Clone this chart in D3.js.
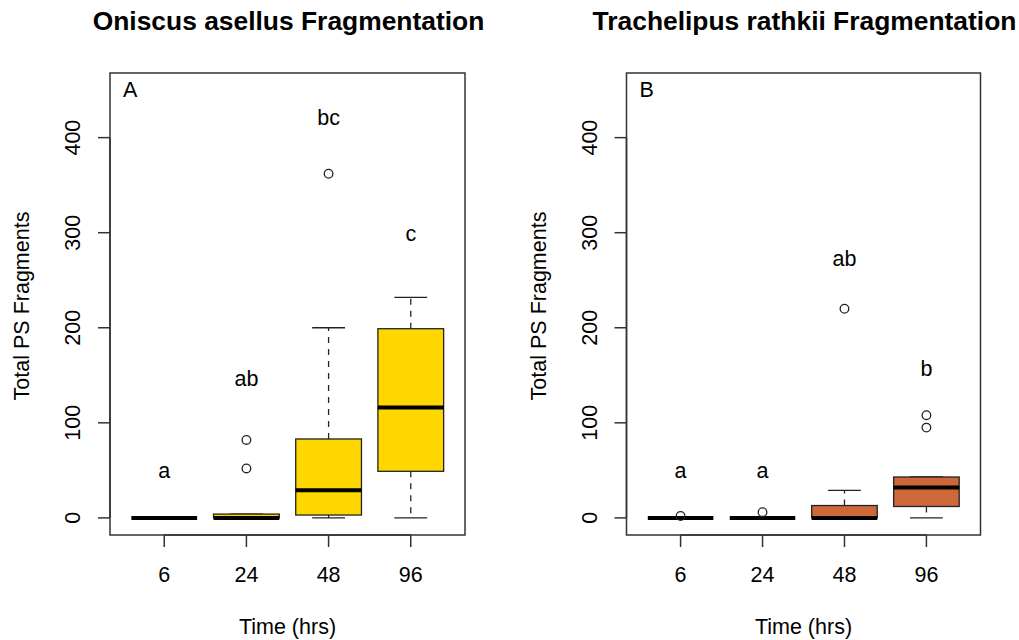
<!DOCTYPE html>
<html>
<head>
<meta charset="utf-8">
<script src="https://cdn.jsdelivr.net/npm/d3@7"></script>
<style>
  body { margin: 0; background: #fff; }
  svg { display: block; font-family: "Liberation Sans", Arial, sans-serif; }
</style>
</head>
<body>
<div id="chart"></div>
<script>
const width = 1019;
const height = 640;

// shared categories / ticks
const times = ['6', '24', '48', '96'];
const yTicks = [0, 100, 200, 300, 400];
const yLimits = [0, 450];

// Oniscus asellus: [lowWhisker, q1, median, q3, highWhisker]
const oniscusStats = [
  [0, 0, 0, 0, 0],
  [0, 0, 0, 4, 4],
  [0, 3, 29, 83, 200],
  [0, 49, 116, 199, 232],
];
const oniscusOutliers = [[], [52, 82], [362], []];
const oniscusLetters = ['a', 'ab', 'bc', 'c'];
const oniscusLetterY = [50, 147, 422, 300];

// Trachelipus rathkii
const trachStats = [
  [0, 0, 0, 0, 0],
  [0, 0, 0, 0, 0],
  [0, 0, 0, 13, 29],
  [0, 12, 32, 43, 43],
];
const trachOutliers = [[2], [6], [220], [95, 108]];
const trachLetters = ['a', 'a', 'ab', 'b'];
const trachLetterY = [50, 50, 273, 158];

const panels = [
  {title: 'Oniscus asellus Fragmentation', tag: 'A', left: 110, right: 465, fill: '#FFD700',
    stats: oniscusStats, outliers: oniscusOutliers, letters: oniscusLetters, letterY: oniscusLetterY},
  {title: 'Trachelipus rathkii Fragmentation', tag: 'B', left: 626.5, right: 980.5, fill: '#CD6839',
    stats: trachStats, outliers: trachOutliers, letters: trachLetters, letterY: trachLetterY},
];

const plotTop = 73;
const plotBottom = 535;
const fs = 21.5;

const svg = d3.select('#chart').append('svg').attr('width', width).attr('height', height);

panels.forEach(drawPanel);

function drawPanel(p) {
  // R style 4% expansion
  const yPad = (yLimits[1] - yLimits[0]) * 0.04;
  const y = d3.scaleLinear().domain([yLimits[0] - yPad, yLimits[1] + yPad]).range([plotBottom, plotTop]);
  const x = d3.scaleLinear().domain([0.34, 4.66]).range([p.left, p.right]);
  const unit = x(1) - x(0);
  const boxW = 0.8 * unit;
  const capW = 0.4 * unit;
  const cx = (p.left + p.right) / 2;

  const g = svg.append('g');

  // title
  g.append('text')
    .attr('x', cx + 1).attr('y', 30)
    .attr('text-anchor', 'middle')
    .style('font-weight', 'bold')
    .style('font-size', '26.4px')
    .text(p.title);

  // boxes
  const groups = g.selectAll('.grp')
    .data(p.stats.map((s, i) => ({s: s, i: i, out: p.outliers[i], letter: p.letters[i], ly: p.letterY[i]})))
    .enter().append('g').attr('class', 'grp');

  // whiskers
  groups.append('line')
    .attr('x1', (d) => x(d.i + 1)).attr('x2', (d) => x(d.i + 1))
    .attr('y1', (d) => y(d.s[3])).attr('y2', (d) => y(d.s[4]))
    .style('stroke', '#222').style('stroke-width', 1.3).style('stroke-dasharray', '6,6');
  groups.append('line')
    .attr('x1', (d) => x(d.i + 1)).attr('x2', (d) => x(d.i + 1))
    .attr('y1', (d) => y(d.s[1])).attr('y2', (d) => y(d.s[0]))
    .style('stroke', '#222').style('stroke-width', 1.3).style('stroke-dasharray', '6,6');
  // staples
  [0, 4].forEach((k) => {
    groups.append('line')
      .attr('x1', (d) => x(d.i + 1) - capW / 2).attr('x2', (d) => x(d.i + 1) + capW / 2)
      .attr('y1', (d) => y(d.s[k])).attr('y2', (d) => y(d.s[k]))
      .style('stroke', '#222').style('stroke-width', 1.3);
  });

  groups.append('rect')
    .attr('x', (d) => x(d.i + 1) - boxW / 2)
    .attr('width', boxW)
    .attr('y', (d) => y(d.s[3]))
    .attr('height', (d) => y(d.s[1]) - y(d.s[3]))
    .style('fill', p.fill)
    .style('stroke', '#222')
    .style('stroke-width', 1.3);

  groups.append('line')
    .attr('x1', (d) => x(d.i + 1) - boxW / 2).attr('x2', (d) => x(d.i + 1) + boxW / 2)
    .attr('y1', (d) => y(d.s[2])).attr('y2', (d) => y(d.s[2]))
    .style('stroke', '#000').style('stroke-width', 4);

  // outliers
  groups.selectAll('circle')
    .data((d) => d.out.map((v) => ({v: v, i: d.i})))
    .enter().append('circle')
    .attr('cx', (d) => x(d.i + 1))
    .attr('cy', (d) => y(d.v))
    .attr('r', 4.3)
    .style('fill', 'none')
    .style('stroke', '#222')
    .style('stroke-width', 1.3);

  // significance letters
  groups.append('text')
    .attr('x', (d) => x(d.i + 1))
    .attr('y', (d) => y(d.ly) + 8)
    .attr('text-anchor', 'middle')
    .style('font-size', fs + 'px')
    .text((d) => d.letter);

  // frame
  g.append('rect')
    .attr('x', p.left).attr('y', plotTop)
    .attr('width', p.right - p.left).attr('height', plotBottom - plotTop)
    .style('fill', 'none').style('stroke', '#333').style('stroke-width', 1.5);

  // panel tag
  g.append('text')
    .attr('x', p.left + 13).attr('y', 97)
    .style('font-size', fs + 'px')
    .text(p.tag);

  // y axis
  const yAxis = g.append('g');
  yAxis.append('line')
    .attr('x1', p.left).attr('x2', p.left)
    .attr('y1', y(yTicks[0])).attr('y2', y(yTicks[yTicks.length - 1]))
    .style('stroke', '#333').style('stroke-width', 1.5);
  yAxis.selectAll('.tick')
    .data(yTicks).enter().append('line')
    .attr('x1', p.left - 12).attr('x2', p.left)
    .attr('y1', (d) => y(d)).attr('y2', (d) => y(d))
    .style('stroke', '#333').style('stroke-width', 1.5);
  yAxis.selectAll('.lab')
    .data(yTicks).enter().append('text')
    .attr('transform', (d) => `translate(${p.left - 30},${y(d)}) rotate(-90)`)
    .attr('text-anchor', 'middle')
    .style('font-size', fs + 'px')
    .text((d) => d);
  g.append('text')
    .attr('transform', `translate(${p.left - 81},${(plotTop + plotBottom) / 2 + 2}) rotate(-90)`)
    .attr('text-anchor', 'middle')
    .style('font-size', fs + 'px')
    .text('Total PS Fragments');

  // x axis
  const xAxis = g.append('g');
  xAxis.append('line')
    .attr('x1', x(1)).attr('x2', x(4))
    .attr('y1', plotBottom).attr('y2', plotBottom)
    .style('stroke', '#333').style('stroke-width', 1.5);
  xAxis.selectAll('.tick')
    .data(times).enter().append('line')
    .attr('x1', (d, i) => x(i + 1)).attr('x2', (d, i) => x(i + 1))
    .attr('y1', plotBottom).attr('y2', plotBottom + 12)
    .style('stroke', '#333').style('stroke-width', 1.5);
  xAxis.selectAll('.lab')
    .data(times).enter().append('text')
    .attr('x', (d, i) => x(i + 1)).attr('y', 582)
    .attr('text-anchor', 'middle')
    .style('font-size', fs + 'px')
    .text((d) => d);
  g.append('text')
    .attr('x', cx).attr('y', 634)
    .attr('text-anchor', 'middle')
    .style('font-size', fs + 'px')
    .text('Time (hrs)');
}
</script>
</body>
</html>
